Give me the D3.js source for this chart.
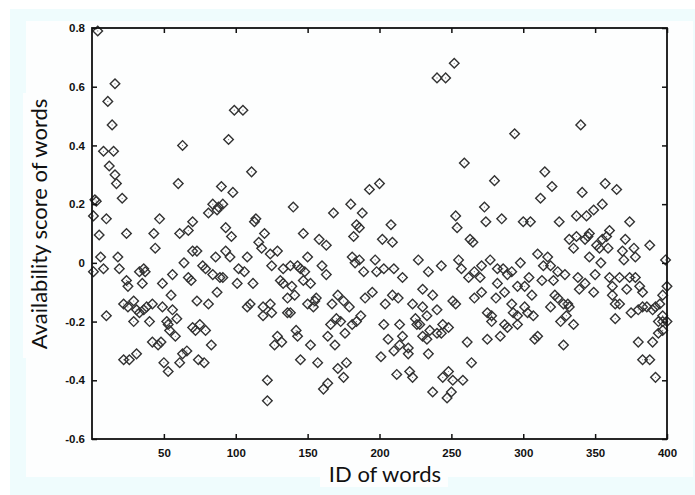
<!DOCTYPE html>
<html>
<head>
<meta charset="utf-8">
<script src="https://cdn.jsdelivr.net/npm/d3@7"></script>
<style>
  body { margin: 0; background: #fff; }
  svg { display: block; }
  .axis .tick text { font-family: "Liberation Sans", Arial, sans-serif; font-weight: bold; font-size: 11.5px; fill: #111; }
  .title { font-family: Lato, "Open Sans", sans-serif; font-size: 22px; fill: #111; }
</style>
</head>
<body>
<svg id="chart" width="695" height="495"></svg>
<script>
// word ids and their availability scores
const wordIds = [
  4, 1, 1, 2, 3, 5, 6, 8, 8, 10, 10, 11, 12, 14, 15, 16, 16, 17, 18, 19,
  21, 22, 22, 24, 24, 25, 25, 26, 29, 29, 31, 31, 33, 33, 35, 36, 36, 37, 38, 40,
  42, 42, 43, 44, 46, 47, 48, 49, 49, 50, 52, 53, 53, 54, 55, 56, 56, 58, 59, 60,
  61, 61, 63, 63, 64, 66, 67, 67, 69, 70, 70, 70, 72, 73, 73, 74, 75, 77, 78, 79,
  79, 81, 81, 83, 84, 84, 86, 87, 87, 88, 89, 90, 91, 91, 93, 93, 95, 96, 97, 98,
  99, 101, 102, 105, 106, 108, 108, 110, 111, 112, 113, 114, 116, 118, 119, 119, 120, 122, 122, 124,
  124, 125, 125, 127, 129, 129, 131, 132, 133, 133, 136, 136, 138, 138, 139, 140, 141, 142, 143, 143,
  145, 145, 147, 147, 148, 150, 150, 152, 152, 154, 155, 156, 157, 158, 160, 161, 163, 163, 164, 164,
  166, 167, 168, 169, 170, 171, 171, 173, 175, 175, 176, 177, 179, 180, 181, 181, 182, 183, 184, 184,
  186, 186, 187, 188, 189, 190, 193, 195, 197, 198, 200, 201, 202, 203, 203, 204, 206, 208, 209, 209,
  210, 210, 212, 213, 214, 214, 216, 216, 220, 220, 221, 223, 223, 225, 226, 227, 228, 230, 230, 230,
  233, 233, 234, 234, 235, 237, 237, 240, 240, 240, 243, 243, 244, 244, 246, 247, 248, 248, 250, 251,
  251, 252, 253, 253, 254, 255, 257, 258, 259, 261, 262, 263, 264, 265, 266, 266, 270, 271, 271, 273,
  274, 275, 275, 277, 278, 278, 280, 281, 282, 282, 284, 285, 286, 287, 287, 289, 289, 292, 292, 293,
  294, 296, 296, 296, 298, 300, 301, 301, 303, 304, 305, 306, 307, 308, 310, 310, 312, 313, 314, 315,
  317, 319, 319, 320, 321, 322, 324, 324, 325, 326, 328, 328, 329, 330, 331, 332, 332, 335, 335, 337,
  337, 338, 339, 340, 341, 343, 343, 344, 345, 346, 346, 349, 349, 350, 351, 353, 354, 355, 355, 357,
  358, 359, 360, 360, 362, 362, 364, 364, 365, 367, 367, 369, 370, 371, 372, 374, 374, 375, 377, 378,
  378, 380, 380, 381, 383, 383, 383, 386, 388, 388, 390, 390, 392, 392, 394, 394, 395, 397, 397, 397,
  397, 399, 400, 400
];
const scores = [
  0.79, -0.03, 0.16, 0.215, 0.21, 0.095, 0.02, -0.02, 0.38, 0.15, -0.18, 0.55, 0.33, 0.47, 0.38, 0.61, 0.30, 0.27, 0.02, -0.02,
  0.22, -0.14, -0.33, -0.06, 0.10, -0.08, -0.15, -0.33, -0.13, -0.20, -0.16, -0.31, -0.03, -0.17, -0.07, -0.02, -0.16, -0.03, -0.15, -0.20,
  -0.14, -0.27, 0.10, 0.05, -0.28, 0.15, -0.27, -0.07, -0.15, -0.34, -0.20, -0.21, -0.37, -0.23, -0.11, -0.16, -0.04, -0.25, -0.19, 0.27,
  -0.34, 0.10, 0.40, -0.31, 0.00, -0.30, -0.05, 0.11, -0.06, 0.04, 0.14, -0.22, -0.23, -0.13, 0.04, -0.33, -0.21, -0.01, -0.34, -0.23,
  -0.02, 0.17, -0.14, -0.28, 0.20, -0.04, 0.02, 0.18, -0.10, 0.19, -0.05, 0.26, 0.20, -0.05, 0.04, 0.12, 0.42, 0.02, 0.09, 0.24,
  0.52, -0.07, -0.02, 0.52, -0.03, -0.15, 0.02, -0.14, 0.31, -0.07, 0.14, 0.15, 0.07, 0.05, -0.15, -0.18, 0.10, -0.47, -0.40, 0.03,
  -0.14, -0.01, -0.17, -0.28, 0.04, -0.25, -0.06, -0.27, -0.02, -0.07, -0.12, -0.17, -0.01, -0.17, -0.08, 0.19, -0.11, -0.23, -0.25, -0.01,
  -0.02, -0.33, 0.10, -0.06, -0.03, -0.14, 0.02, -0.07, -0.28, -0.15, -0.13, -0.12, -0.34, 0.08, -0.01, -0.43, 0.06, -0.04, -0.41, -0.25,
  -0.21, -0.14, 0.17, -0.28, -0.19, -0.11, -0.36, -0.20, -0.13, -0.39, -0.24, -0.34, -0.15, 0.20, 0.02, -0.21, 0.09, 0.00, -0.20, 0.13,
  0.12, 0.01, -0.18, 0.17, -0.03, -0.12, 0.25, -0.10, 0.01, -0.03, 0.27, -0.32, 0.08, -0.02, -0.21, -0.14, -0.26, 0.13, -0.11, 0.07,
  -0.02, -0.30, -0.38, -0.12, -0.21, -0.28, -0.25, -0.05, -0.31, -0.29, -0.37, -0.39, -0.14, -0.19, -0.21, 0.01, -0.21, -0.09, -0.15, -0.25,
  -0.18, -0.26, -0.31, -0.03, -0.23, -0.11, -0.44, 0.63, -0.16, -0.24, -0.01, -0.24, -0.21, -0.39, 0.63, -0.46, -0.37, -0.22, -0.44, -0.13,
  -0.40, 0.68, 0.16, -0.14, 0.12, 0.01, -0.02, -0.40, 0.34, -0.27, -0.05, 0.08, -0.34, 0.07, -0.03, -0.12, -0.05, -0.01, -0.10, 0.19,
  0.14, -0.26, -0.17, 0.01, -0.18, -0.20, 0.28, -0.12, -0.02, -0.07, -0.25, 0.15, -0.02, -0.10, -0.21, -0.22, -0.04, -0.03, -0.14, -0.17,
  0.44, -0.18, -0.21, -0.08, 0.00, 0.14, -0.08, -0.15, -0.17, -0.05, 0.14, -0.11, -0.18, -0.26, 0.03, -0.25, 0.22, -0.06, -0.01, 0.31,
  0.02, -0.01, -0.15, 0.26, -0.06, -0.11, -0.03, -0.12, 0.14, -0.20, -0.14, -0.28, -0.04, -0.18, -0.14, 0.08, -0.15, -0.21, 0.05, 0.16,
  0.09, -0.05, -0.09, 0.47, 0.24, 0.08, -0.07, 0.16, 0.09, 0.10, 0.02, -0.10, 0.18, -0.04, 0.06, 0.05, 0.00, 0.20, 0.08, 0.27,
  0.09, 0.05, 0.11, -0.05, -0.11, -0.08, -0.19, -0.14, 0.25, -0.14, -0.05, 0.04, 0.01, 0.08, -0.09, 0.14, -0.05, -0.17, 0.05, -0.05,
  0.02, -0.16, -0.27, -0.08, -0.10, -0.15, -0.33, -0.15, 0.06, -0.33, -0.16, -0.27, -0.15, -0.39, -0.24, -0.20, -0.14, -0.11, -0.18, -0.20,
  -0.23, 0.01, -0.08, -0.20
];

const xTickValues = [50, 100, 150, 200, 250, 300, 350, 400];
const yTickValues = [-0.6, -0.4, -0.2, 0, 0.2, 0.4, 0.6, 0.8];
const yTickLabels = ["-0.6", "-0.4", "-0.2", "0", "0.2", "0.4", "0.6", "0.8"];

const svg = d3.select("#chart");

// plot box
const plotLeft = 92, plotRight = 667, plotTop = 28, plotBottom = 439;

// pale frame round the figure
svg.append("rect").attr("x", 10).attr("y", 9).attr("width", 685).attr("height", 486).attr("fill", "#effcfd");
svg.append("rect").attr("x", 26).attr("y", 21).attr("width", 667).attr("height", 456).attr("fill", "#fdfefe");
// white patches behind the axis titles
svg.append("rect").attr("x", 320).attr("y", 470).attr("width", 128).attr("height", 17).attr("fill", "#fdfefe");
svg.append("rect").attr("x", 23).attr("y", 93).attr("width", 10).attr("height", 265).attr("fill", "#fdfefe");

const x = d3.scaleLinear().domain([0, 400]).range([plotLeft, plotRight]);
const y = d3.scaleLinear().domain([-0.6, 0.8]).range([plotBottom, plotTop]);

const points = wordIds.map((id, i) => ({ id: id, score: scores[i] }));

// markers: open diamonds with a small dot in the middle
const diamond = d3.symbol().type(d3.symbolSquare).size(46);

const marks = svg.append("g").attr("class", "marks");
marks.selectAll("path")
  .data(points)
  .enter()
  .append("path")
  .attr("d", diamond)
  .attr("transform", d => "translate(" + x(d.id) + "," + y(d.score) + ") rotate(45)")
  .attr("fill", "none")
  .attr("stroke", "#333")
  .attr("stroke-width", 1.4);

marks.selectAll("circle")
  .data(points)
  .enter()
  .append("circle")
  .attr("cx", d => x(d.id))
  .attr("cy", d => y(d.score))
  .attr("r", 0.6)
  .attr("fill", "#777");

// axes, ticks pointing inward on all four sides
const yFormat = d => yTickLabels[yTickValues.indexOf(d)];

svg.append("g")
  .attr("class", "axis")
  .attr("transform", "translate(0," + plotBottom + ")")
  .call(d3.axisBottom(x).tickValues(xTickValues).tickSize(-5).tickPadding(10));

svg.append("g")
  .attr("class", "axis")
  .attr("transform", "translate(0," + plotTop + ")")
  .call(d3.axisTop(x).tickValues(xTickValues).tickSize(-5).tickFormat(""));

svg.append("g")
  .attr("class", "axis")
  .attr("transform", "translate(" + plotLeft + ",0)")
  .call(d3.axisLeft(y).tickValues(yTickValues).tickSize(-5).tickPadding(7).tickFormat(yFormat));

svg.append("g")
  .attr("class", "axis")
  .attr("transform", "translate(" + plotRight + ",0)")
  .call(d3.axisRight(y).tickValues(yTickValues).tickSize(-5).tickFormat(""));

svg.selectAll(".axis .domain").remove();
svg.selectAll(".axis .tick line").attr("stroke", "#111").attr("stroke-width", 1.5);

svg.append("rect")
  .attr("x", plotLeft).attr("y", plotTop)
  .attr("width", plotRight - plotLeft).attr("height", plotBottom - plotTop)
  .attr("fill", "none")
  .attr("stroke", "#111")
  .attr("stroke-width", 1.8);

// axis titles
svg.append("text")
  .attr("class", "title")
  .attr("x", 385).attr("y", 482)
  .attr("text-anchor", "middle")
  .text("ID of words");

svg.append("text")
  .attr("class", "title")
  .attr("transform", "translate(47,224) rotate(-90)")
  .attr("text-anchor", "middle")
  .text("Availability score of words");
</script>
</body>
</html>
